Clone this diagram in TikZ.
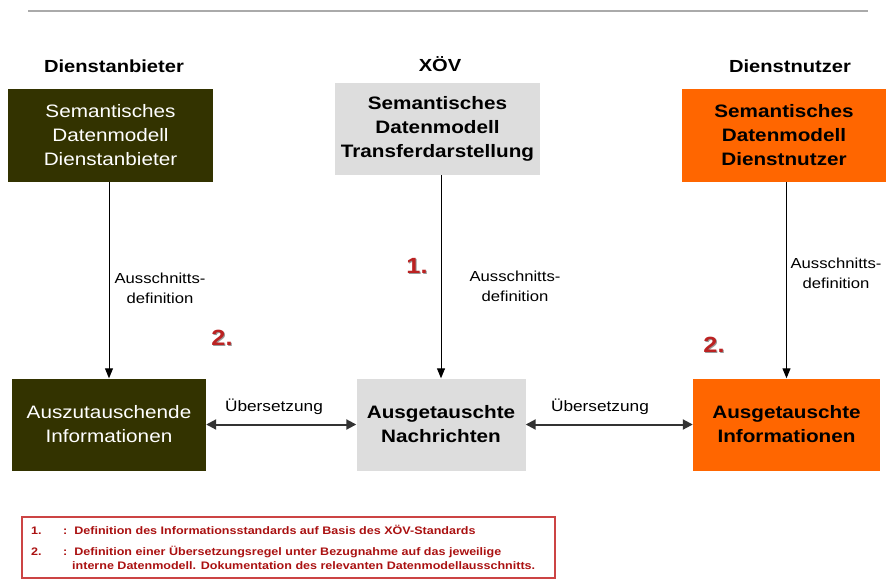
\documentclass[tikz,border=0pt]{standalone}
\usepackage{fontspec}
\setmainfont{Liberation Sans}[FakeStretch=1.15]
\usetikzlibrary{arrows.meta}
\definecolor{darkolive}{HTML}{333300}
\definecolor{paleGray}{HTML}{DDDDDD}
\definecolor{brightOrange}{HTML}{FF6600}
\definecolor{ruleGray}{HTML}{AAAAAA}
\definecolor{legendRed}{HTML}{CC4444}
\definecolor{noteRed}{HTML}{AA1111}
\definecolor{numRed}{HTML}{BB2222}
\tikzset{
  box/.style={inner sep=2pt, align=center, minimum width=#1},
  boxtext/.style={font=\fontsize{18}{24}\selectfont},
  boxbold/.style={font=\fontsize{18}{24}\selectfont\bfseries},
  header/.style={font=\fontsize{17.5}{20}\selectfont\bfseries},
  edgelabel/.style={font=\fontsize{14.5}{20}\selectfont, align=center},
  translabel/.style={font=\fontsize{15}{18}\selectfont},
  stepnum/.style={font=\fontsize{22}{24}\selectfont\bfseries, text=numRed},
  stepshadow/.style={font=\fontsize{22}{24}\selectfont\bfseries, text=black!40},
  vline/.style={line width=1pt, -{Triangle[length=10pt, width=8pt]}},
  hline/.style={line width=2pt, draw=black!80, {Triangle[length=10pt, width=10pt]}-{Triangle[length=10pt, width=10pt]}},
  notetext/.style={font=\fontsize{10.9}{14}\selectfont\bfseries, text=noteRed, anchor=base west, inner sep=0pt},
}
\begin{document}
\begin{tikzpicture}[x=1pt, y=-1pt]
\useasboundingbox (0,0) rectangle (888,581);

% rule at the top
\coordinate (ruleL) at (28,11);
\coordinate (ruleR) at (868,11);
\draw[ruleGray, line width=2pt] (ruleL) -- (ruleR);

% column headers
\node[header] (hProv) at (114,66) {Dienstanbieter};
\node[header] (hXoev) at (440,64) {XÖV};
\node[header] (hUser) at (790,66) {Dienstnutzer};

% semantic data models
\node[box=205pt, minimum height=93pt, fill=darkolive, text=white, boxtext] (b1) at (110.5,135.5)
  {Semantisches\\Datenmodell\\Dienstanbieter};
\node[box=205pt, minimum height=92pt, fill=paleGray, boxbold] (b2) at (437.5,129)
  {Semantisches\\Datenmodell\\Transferdarstellung};
\node[box=204pt, minimum height=93pt, fill=brightOrange, boxbold] (b3) at (784,135.5)
  {Semantisches\\Datenmodell\\Dienstnutzer};

% exchanged information
\node[box=194pt, minimum height=92pt, fill=darkolive, text=white, boxtext] (a1) at (109,424.5)
  {Auszutauschende\\Informationen};
\node[box=169pt, minimum height=92pt, fill=paleGray, boxbold] (a2) at (441,424.5)
  {Ausgetauschte\\Nachrichten};
\node[box=187pt, minimum height=92pt, fill=brightOrange, boxbold] (a3) at (786.5,424.5)
  {Ausgetauschte\\Informationen};

% extract definitions
\draw[vline] (b1.south -| a1.north) -- (a1.north);
\draw[vline] (a2.north |- b2.south) -- (a2.north);
\draw[vline] (a3.north |- b3.south) -- (a3.north);
\node[edgelabel] (l1) at (160,288) {Ausschnitts-\\definition};
\node[edgelabel] (l2) at (515,286) {Ausschnitts-\\definition};
\node[edgelabel] (l3) at (836,273) {Ausschnitts-\\definition};

% translations
\draw[hline] (a1) -- (a2);
\draw[hline] (a2) -- (a3);
\node[translabel] (t1) at (274,407) {Übersetzung};
\node[translabel] (t2) at (600,407) {Übersetzung};

% step numbers
\node[stepshadow] (n1s) at (418,267) {1.};
\node[stepnum] (n1) at (417,266) {1.};
\node[stepshadow] (n2s) at (223,339) {2.};
\node[stepnum] (n2) at (222,338) {2.};
\node[stepshadow] (n3s) at (715,346) {2.};
\node[stepnum] (n3) at (714,345) {2.};

% legend
\node[draw=legendRed, line width=1.5pt, minimum width=533pt, minimum height=61pt, inner sep=0pt] (leg) at (288.5,547.5) {};
\node[notetext] (k1) at (31,534) {1.};
\node[notetext] (d1) at (63,534) {:\ \ Definition des Informationsstandards auf Basis des XÖV-Standards};
\node[notetext] (k2) at (31,555) {2.};
\node[notetext] (d2) at (63,555) {:\ \ Definition einer Übersetzungsregel unter Bezugnahme auf das jeweilige};
\node[notetext] (d3) at (72,569) {interne Datenmodell. Dokumentation des relevanten Datenmodellausschnitts.};
\end{tikzpicture}
\end{document}
